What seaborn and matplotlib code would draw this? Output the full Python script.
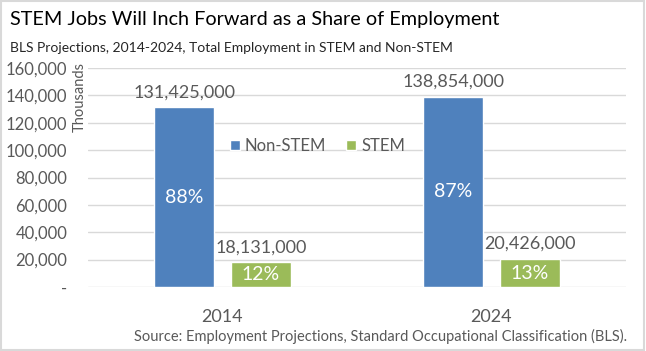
import seaborn as sns
import matplotlib.pyplot as plt
import pandas as pd
import matplotlib
matplotlib.use('Agg')

# 数据（单位：千）
years = ["2014", "2024"]
series = ["Non-STEM", "STEM"]
non_stem = [131425, 138854]
stem = [18131, 20426]
yticks = [0, 20000, 40000, 60000, 80000, 100000, 120000, 140000, 160000]

df = pd.DataFrame({
    "year": years * 2,
    "series": [series[0]] * 2 + [series[1]] * 2,
    "value": non_stem + stem,
})

sns.set_theme(style="white")
plt.rcParams['font.family'] = ['Lato', 'DejaVu Sans']

gray = "#595959"
colors = {"Non-STEM": "#4F81BD", "STEM": "#9BBB59"}

fig = plt.figure(figsize=(6.46, 3.51), dpi=100)
ax = fig.add_axes([88 / 646, 64 / 351, 538 / 646, 219 / 351])

sns.barplot(data=df, x="year", y="value", hue="series", order=years,
            hue_order=series, palette=colors, width=0.572, gap=0.22,
            saturation=1, ax=ax)

ax.set_ylim(0, 160000)
ax.set_yticks(yticks)
ax.set_yticklabels(["-" if t == 0 else f"{t:,}" for t in yticks],
                   fontsize=12, color=gray)
ax.yaxis.grid(True, color="#d9d9d9", linewidth=1)
ax.set_axisbelow(True)
for s in ax.spines.values():
    s.set_visible(False)
ax.tick_params(axis="both", length=0)
ax.tick_params(axis="y", pad=15)
ax.tick_params(axis="x", labelsize=13, labelcolor=gray, pad=16)
ax.set_xlabel("")
ax.set_ylabel("")

totals = [a + b for a, b in zip(non_stem, stem)]
for cont, vals in zip(ax.containers, [non_stem, stem]):
    ax.bar_label(cont, labels=[f"{v * 1000:,}" for v in vals],
                 padding=5, fontsize=13, color=gray)
    ax.bar_label(cont, labels=[f"{v / t:.0%}" for v, t in zip(vals, totals)],
                 label_type="center", fontsize=14, color="white")

ax.legend(loc="upper left", bbox_to_anchor=(0.236, 0.75), ncol=2,
          frameon=False, fontsize=12, labelcolor=gray,
          handlelength=0.6, handleheight=0.6, handletextpad=0.3,
          columnspacing=1.2)

fig.text(80 / 646, 1 - 62 / 351, "Thousands", rotation=90, ha="center",
         va="top", fontsize=10.5, color=gray)
fig.text(10 / 646, 1 - 20 / 351, "STEM Jobs Will Inch Forward as a Share of Employment",
         fontsize=14.3, color="black", va="center")
fig.text(10 / 646, 1 - 48 / 351,
         "BLS Projections, 2014-2024, Total Employment in STEM and Non-STEM",
         fontsize=10, color="#262626", va="center")
fig.text(627 / 646, 1 - 336 / 351,
         "Source: Employment Projections, Standard Occupational Classification (BLS).",
         fontsize=10.5, color=gray, ha="right", va="center")

fig.patches.append(plt.Rectangle((0.002, 0.003), 0.995, 0.993, transform=fig.transFigure,
                                 fill=False, edgecolor="#d9d9d9", linewidth=1.5))

plt.savefig("out.png", dpi=100)
